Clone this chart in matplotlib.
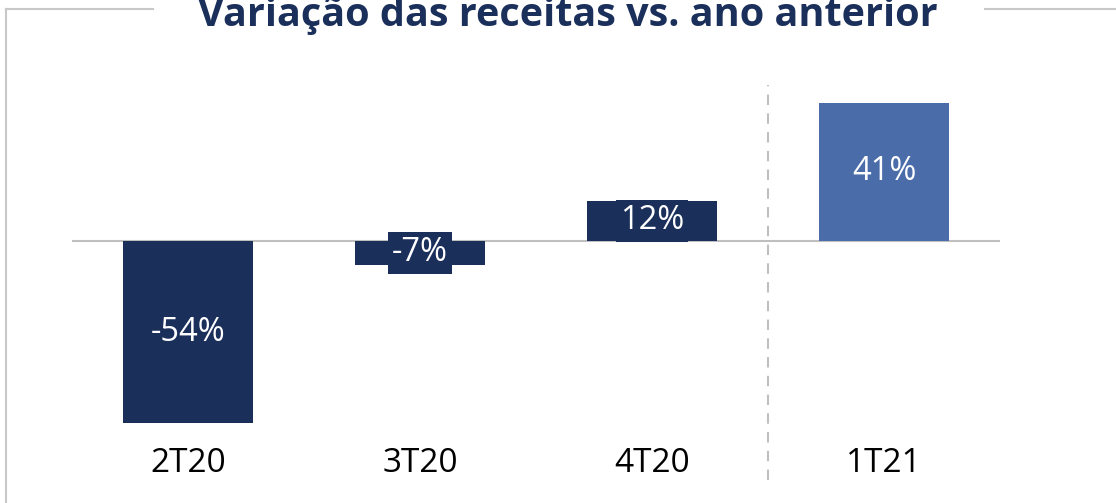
import matplotlib
matplotlib.use("Agg")
import matplotlib.pyplot as plt
from matplotlib.lines import Line2D

quarters = ['2T20', '3T20', '4T20', '1T21']
variation = [-54, -7, 12, 41]
labels = ['-54%', '-7%', '12%', '41%']
colors = ['#1b2f5b', '#1b2f5b', '#1b2f5b', '#4a6daa']

plt.rcParams['font.family'] = 'Open Sans'

W, H = 1116, 503
fig = plt.figure(figsize=(W / 100, H / 100), dpi=100)

# axes placed in pixel terms: x 72..1000, y 85..480
ax = fig.add_axes([72 / W, 1 - 480 / H, (1000 - 72) / W, (480 - 85) / H])
ax.set_xlim(-0.5, 3.5)
ax.set_ylim(-70.9, 46.3)
ax.axis('off')

x = range(len(quarters))
ax.bar(x, variation, width=0.56, color=colors, zorder=2)
ax.axhline(0, color='#bfbfbf', lw=1.5, zorder=1)
ax.axvline(2.5, color='#bfbfbf', lw=1.5, ls=(0, (5, 4)), zorder=1)

for i, (v, lab) in enumerate(zip(variation, labels)):
    ax.text(i, v / 2, lab, ha='center', va='center', color='white', fontsize=23.5,
            bbox=dict(facecolor=colors[i], edgecolor='none', pad=3), zorder=3)
    ax.text(i, -65.9, quarters[i], ha='center', va='center', color='black', fontsize=24)

fig.text(0.509, 1 - 26 / H, 'Variação das receitas vs. ano anterior', ha='center',
         va='baseline', fontsize=28.5, fontweight='bold', color='#1b2f5b')

# frame around the chart
frame = '#c8c8c8'
fig.add_artist(Line2D([6 / W, 6 / W], [1 - 9 / H, 0], color=frame, lw=1.5))
fig.add_artist(Line2D([6 / W, 153 / W], [1 - 9 / H, 1 - 9 / H], color=frame, lw=1.5))
fig.add_artist(Line2D([985 / W, 1], [1 - 9 / H, 1 - 9 / H], color=frame, lw=1.5))

fig.savefig('out.png', dpi=100)
